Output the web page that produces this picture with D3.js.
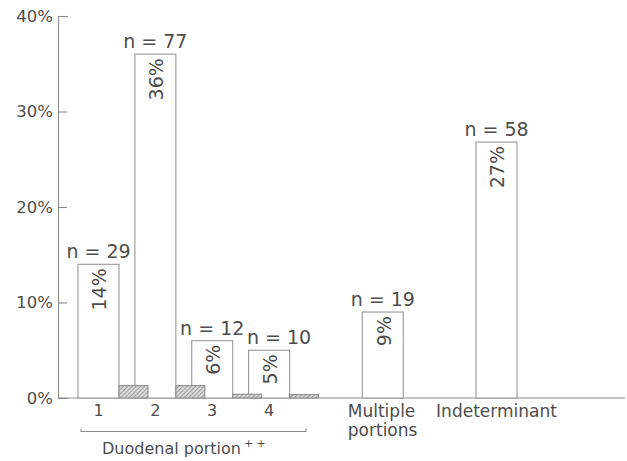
<!DOCTYPE html>
<html>
<head>
<meta charset="utf-8">
<script src="https://cdn.jsdelivr.net/npm/d3@7"></script>
<style>
  body { margin: 0; background: #fff; }
  text { font-family: "DejaVu Sans", sans-serif; fill: #4d4d4d; }
</style>
</head>
<body>
<div id="chart"></div>
<script>
// slots along the x axis (gap slots leave the spaces between groups)
var slots = ["1", "2", "3", "4", "gapA", "Multiple", "gapB", "Indeterminant"];

// open bars
var categories = ["1", "2", "3", "4", "Multiple", "Indeterminant"];
var percents = [14, 36, 6, 5, 9, 26.8];
var pctLabels = ["14%", "36%", "6%", "5%", "9%", "27%"];
var nLabels = ["n = 29", "n = 77", "n = 12", "n = 10", "n = 19", "n = 58"];

// small hatched bars next to the duodenal portions
var hatchCats = ["1", "2", "3", "4"];
var hatchValues = [1.3, 1.3, 0.4, 0.35];

var yTicks = [0, 10, 20, 30, 40];

var width = 627, height = 461;
var barW = 41, hatchW = 29;

var svg = d3.select("#chart").append("svg")
    .attr("width", width)
    .attr("height", height);

var defs = svg.append("defs");
var pat = defs.append("pattern")
    .attr("id", "hatch")
    .attr("patternUnits", "userSpaceOnUse")
    .attr("width", 3).attr("height", 3)
    .attr("patternTransform", "rotate(45)");
pat.append("rect").attr("width", 3).attr("height", 3).attr("fill", "#d8d8d8");
pat.append("line").attr("x1", 0).attr("y1", 0).attr("x2", 0).attr("y2", 3)
    .attr("stroke", "#7a7a7a").attr("stroke-width", 1.2);

var x = d3.scalePoint()
    .domain(slots)
    .range([98.5, 496.5]);

var y = d3.scaleLinear()
    .domain([0, 40])
    .range([398, 16]);

var bars = categories.map(function (c, i) {
    return { cat: c, v: percents[i], pct: pctLabels[i], n: nLabels[i] };
});
var hatched = hatchCats.map(function (c, i) { return { cat: c, v: hatchValues[i] }; });

// baseline
svg.append("line")
    .attr("x1", 58).attr("x2", 625)
    .attr("y1", y(0)).attr("y2", y(0))
    .attr("stroke", "#8c8c8c").attr("stroke-width", 1.2);

// y axis with ticks pointing into the plot
var yAxis = d3.axisLeft(y)
    .tickValues(yTicks)
    .tickFormat(function (d) { return d + "%"; })
    .tickSizeInner(-9)
    .tickSizeOuter(-10)
    .tickPadding(5);

var gy = svg.append("g")
    .attr("transform", "translate(58,0)")
    .call(yAxis);
gy.selectAll("path, line").attr("stroke", "#8c8c8c").attr("stroke-width", 1.1);
gy.selectAll("text")
    .style("font-family", "DejaVu Sans, sans-serif")
    .style("font-size", "16.5px")
    .attr("fill", "#4d4d4d");

// open bars
svg.selectAll("rect.bar")
    .data(bars)
    .enter()
    .append("rect")
    .attr("class", "bar")
    .attr("x", function (d) { return x(d.cat) - barW / 2; })
    .attr("y", function (d) { return y(d.v); })
    .attr("width", barW)
    .attr("height", function (d) { return y(0) - y(d.v); })
    .attr("fill", "#fff")
    .attr("stroke", "#999")
    .attr("stroke-width", 1.1);

// hatched bars, drawn on top
svg.selectAll("rect.hatch")
    .data(hatched)
    .enter()
    .append("rect")
    .attr("class", "hatch")
    .attr("x", function (d) { return x(d.cat) + barW / 2; })
    .attr("y", function (d) { return y(d.v); })
    .attr("width", hatchW)
    .attr("height", function (d) { return y(0) - y(d.v); })
    .attr("fill", "url(#hatch)")
    .attr("stroke", "#888")
    .attr("stroke-width", 1);

// rotated percent labels inside the bars
svg.selectAll("text.pct")
    .data(bars)
    .enter()
    .append("text")
    .attr("class", "pct")
    .attr("transform", function (d) {
        return "translate(" + (x(d.cat) + 1) + "," + (y(d.v) + 4) + ") rotate(-90)";
    })
    .attr("dy", "0.36em")
    .attr("text-anchor", "end")
    .style("font-size", "19px")
    .text(function (d) { return d.pct; });

// n = ... labels above the bars (n = 10 nudged right so it clears n = 12)
var nShift = { "4": 10 };
svg.selectAll("text.n")
    .data(bars)
    .enter()
    .append("text")
    .attr("class", "n")
    .attr("x", function (d) { return x(d.cat) + (nShift[d.cat] || 0); })
    .attr("y", function (d) { return y(d.v) - 6; })
    .attr("text-anchor", "middle")
    .style("font-size", "19px")
    .text(function (d) { return d.n; });

// category labels under the axis
svg.selectAll("text.num")
    .data(hatchCats)
    .enter()
    .append("text")
    .attr("class", "num")
    .attr("x", function (d) { return x(d); })
    .attr("y", 416)
    .attr("text-anchor", "middle")
    .style("font-size", "16px")
    .text(function (d) { return d; });

var multi = svg.append("text")
    .attr("x", x("Multiple") - 35)
    .attr("y", 417)
    .style("font-size", "17px");
multi.append("tspan").text("Multiple");
multi.append("tspan").attr("x", x("Multiple") - 35).attr("dy", 19).text("portions");

svg.append("text")
    .attr("x", x("Indeterminant"))
    .attr("y", 417)
    .attr("text-anchor", "middle")
    .style("font-size", "17px")
    .text("Indeterminant");

// bracket under the duodenal portions
var bx0 = x("1") - 17.5, bx1 = x("4") + 37, by = 431.5;
svg.append("path")
    .attr("d", "M" + bx0 + "," + (by - 3) + "V" + by + "H" + bx1 + "V" + (by - 3))
    .attr("fill", "none")
    .attr("stroke", "#8c8c8c")
    .attr("stroke-width", 1.1);

var dp = svg.append("text")
    .attr("x", bx0 + 21)
    .attr("y", 454)
    .style("font-size", "16px");
dp.append("tspan").text("Duodenal portion");
dp.append("tspan").attr("dx", 3).attr("dy", -7).style("font-size", "11px").text("+ +");
</script>
</body>
</html>
